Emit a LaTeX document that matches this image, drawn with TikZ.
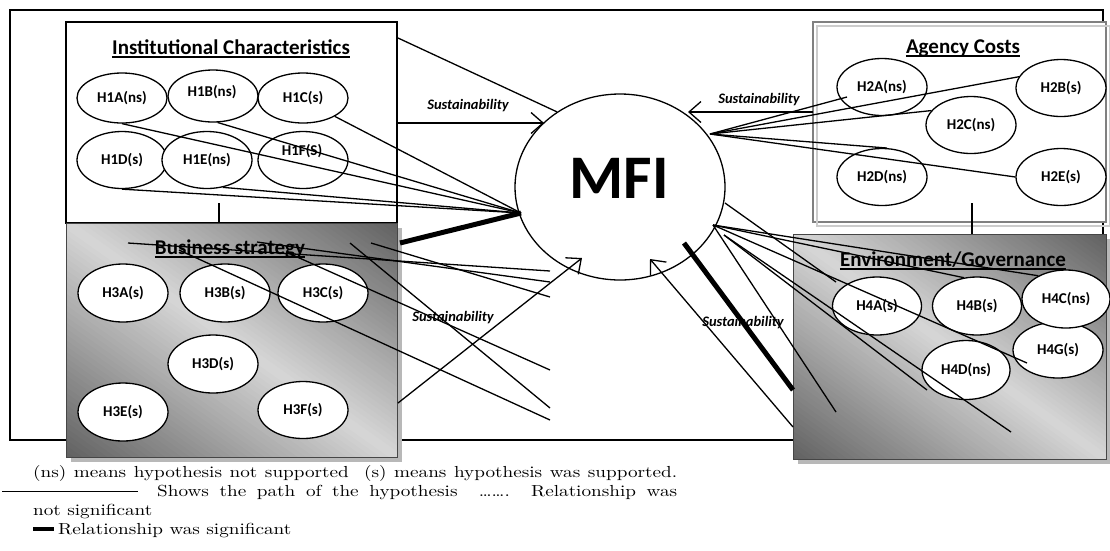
\documentclass[tikz,border=0pt]{standalone}
\usepackage{fontspec}
\newfontfamily\calfont{Carlito}
\newfontfamily\legfont[FakeStretch=1.2]{lmroman10-regular.otf}
\usetikzlibrary{shapes.geometric,arrows.meta}
\definecolor{boxdark}{gray}{0.38}
\definecolor{boxlight}{gray}{0.84}
\definecolor{shadowgray}{gray}{0.72}
\definecolor{agdark}{gray}{0.50}
\definecolor{aglight}{gray}{0.80}
% diagonal dark-light-dark gradient box: x0,y0,x1,y1
\newcommand{\gradbox}[4]{%
  \begin{scope}
    \clip (#1,#2) rectangle (#3,#4);
    \foreach \i in {0,...,79} {
      \pgfmathsetmacro{\ca}{-1+\i/40}
      \pgfmathsetmacro{\cb}{-1+(\i+1)/40+0.004}
      \pgfmathsetmacro{\pc}{100*abs(-1+(\i+0.5)/40)}
      \fill[boxdark!\pc!boxlight]
        ({#1+(#3-#1)*(\ca-0.2)},{#2-0.2*(#4-#2)}) --
        ({#1+(#3-#1)*(\ca+1.2)},{#2+1.2*(#4-#2)}) --
        ({#1+(#3-#1)*(\cb+1.2)},{#2+1.2*(#4-#2)}) --
        ({#1+(#3-#1)*(\cb-0.2)},{#2-0.2*(#4-#2)}) -- cycle;
    }
  \end{scope}
  \draw[draw=gray!55!black, line width=1pt] (#1,#2) rectangle (#3,#4);
}
\begin{document}
\begin{tikzpicture}[x=1pt,y=-1pt,
  ell/.style={ellipse, draw, line width=1.3pt, fill=white, inner sep=0pt,
    minimum width=90pt, minimum height=57pt,
    font=\calfont\bfseries\fontsize{15}{17}\selectfont},
  lab/.style={inner sep=0pt, font=\calfont\bfseries\fontsize{15}{17}\selectfont},
  ttl/.style={inner sep=0pt, anchor=base, font=\calfont\bfseries\fontsize{21}{24}\selectfont},
  sus/.style={inner sep=0pt, font=\calfont\bfseries\itshape\fontsize{14.5}{16}\selectfont},
  ln/.style={line width=1.3pt},
  thk/.style={line width=5pt},
  arr/.style={line width=1.3pt, -{Straight Barb[length=12pt,width=21pt]}},
  uline/.style={line width=1.6pt},
  leg/.style={inner sep=0pt, anchor=base west, font=\legfont\fontsize{16}{19}\selectfont},
]
\useasboundingbox (0,0) rectangle (1110,550);

% outer frame
\draw[line width=1.5pt] (10,10) rectangle (1103,440);

% institutional box
\draw[line width=1.3pt, fill=white] (66,22) rectangle (397,223);
% agency box
\draw[line width=2.5pt, draw=agdark, fill=white] (813,22) rectangle (1106,222);
\draw[line width=1.6pt, draw=aglight] (817,26) rectangle (1110,226);

% business box
\fill[shadowgray] (71,228) rectangle (402,462);
\gradbox{66}{223}{397}{457}
% environment box
\fill[shadowgray] (798,239) rectangle (1110,464);
\gradbox{793}{234}{1106}{459}

% stems
\coordinate (s1a) at (219,203); \coordinate (s1b) at (219,223);
\draw[ln] (s1a) -- (s1b);
\coordinate (s2a) at (972,203); \coordinate (s2b) at (972,234);
\draw[ln] (s2a) -- (s2b);

% titles
\node[ttl] (tinst) at (231,54) {Institutional Characteristics};
\draw[uline] ([yshift=-3pt]tinst.base west) -- ([yshift=-3pt]tinst.base east);
\node[ttl] (tag) at (963,53) {Agency Costs};
\draw[uline] ([yshift=-3pt]tag.base west) -- ([yshift=-3pt]tag.base east);
\node[ttl] (tbus) at (230,254) {Business strategy};
\draw[uline] ([yshift=-3pt]tbus.base west) -- ([yshift=-3pt]tbus.base east);
\node[ttl] (tenv) at (953,266) {Environment/Governance};
\draw[uline] ([yshift=-3pt]tenv.base west) -- ([yshift=-3pt]tenv.base east);

% institutional ellipses
\node[ell, minimum height=50pt] (h1a) at (122,98) {H1A(ns)};
\node[ell, minimum height=52pt] (h1b) at (213,96) {};
\node[lab] (l1b) at (212,92) {H1B(ns)};
\node[ell, minimum height=50pt] (h1c) at (303,98) {H1C(s)};
\node[ell] (h1d) at (122,160) {H1D(s)};
\node[ell] (h1e) at (207,160) {H1E(ns)};
\node[ell] (h1f) at (303,160) {};
\node[lab] (l1f) at (302,151) {H1F(S)};

% agency ellipses
\node[ell] (h2a) at (882,87) {H2A(ns)};
\node[ell] (h2b) at (1061,88) {H2B(s)};
\node[ell] (h2c) at (971,125) {H2C(ns)};
\node[ell] (h2d) at (882,177) {H2D(ns)};
\node[ell] (h2e) at (1061,177) {H2E(s)};

% business ellipses
\node[ell, minimum height=58pt] (h3a) at (123,293) {H3A(s)};
\node[ell, minimum height=58pt] (h3b) at (225,293) {H3B(s)};
\node[ell, minimum height=58pt] (h3c) at (323,293) {H3C(s)};
\node[ell, minimum height=58pt] (h3d) at (213,364) {H3D(s)};
\node[ell, minimum height=58pt] (h3e) at (123,412) {H3E(s)};
\node[ell, minimum height=57pt] (h3f) at (303,410) {H3F(s)};

% environment ellipses
\node[ell, minimum width=89pt, minimum height=58pt] (h4a) at (877,306) {H4A(s)};
\node[ell, minimum width=89pt, minimum height=58pt] (h4b) at (977,306) {H4B(s)};
\node[ell, minimum width=90pt, minimum height=56pt] (h4g) at (1058,350) {H4G(s)};
\node[ell, minimum width=88pt, minimum height=58pt] (h4c) at (1066,299) {H4C(ns)};
\node[ell, minimum width=88pt, minimum height=59pt] (h4d) at (966,370) {H4D(ns)};

% MFI
\node[ellipse, draw, line width=1.3pt, inner sep=0pt, minimum width=210pt, minimum height=186pt] (mfi) at (620,187) {};
\node[inner sep=0pt, font=\calfont\bfseries\fontsize{62}{62}\selectfont] (mfit) at (619,178) {MFI};

% sustainability labels
\node[sus] (sus1) at (468,106) {Sustainability};
\node[sus] (sus2) at (759,100) {Sustainability};
\node[sus] (sus3) at (453,318) {Sustainability};
\node[sus] (sus4) at (743,323) {Sustainability};

% hubs and free ends
\coordinate (hubL) at (521,213);
\coordinate (hubR) at (710,134);
\coordinate (hubE) at (713,225);
\coordinate (hubE2) at (724,235);
\coordinate (cE1) at (725,203);

% institutional connectors
\draw[ln] (h1a.south) -- (hubL);
\draw[ln] (h1b.-80) -- (hubL);
\draw[ln] (h1c.-30) -- (hubL);
\draw[ln] (h1d.south) -- (hubL);
\draw[ln] (h1e.-60) -- (hubL);
\coordinate (topd) at (398,38);
\draw[ln] (topd) -- (mfi.130);
\coordinate (instE) at (397,123);
\coordinate (tipL) at (544,123);
\draw[arr] (instE) -- (tipL);
\coordinate (thL) at (400,243);
\draw[thk] (thL) -- (hubL);

% business connectors
\coordinate (b1s) at (128,243); \coordinate (b1e) at (550,271);
\coordinate (b2s) at (257,242); \coordinate (b2e) at (550,282);
\coordinate (b3s) at (179,250); \coordinate (b3e) at (550,420);
\coordinate (b4s) at (286,252); \coordinate (b4e) at (550,370);
\coordinate (b5s) at (350,243); \coordinate (b5e) at (550,408);
\coordinate (b6s) at (371,243); \coordinate (b6e) at (550,297);
\foreach \i in {1,...,6} {\draw[ln] (b\i s) -- (b\i e);}
\coordinate (busE) at (398,403); \coordinate (tipB) at (582,258);
\draw[arr] (busE) -- (tipB);

% agency connectors
\coordinate (h2ain) at (847,97);
\draw[ln] (hubR) -- (h2ain);
\draw[ln] (hubR) -- (h2b.165);
\draw[ln] (hubR) -- (h2c.160);
\draw[ln] (hubR) -- (h2d.80);
\draw[ln] (hubR) -- (h2e.west);
\coordinate (agW) at (813,112); \coordinate (tipR) at (688,112);
\draw[arr] (agW) -- (tipR);

% environment connectors
\coordinate (e1e) at (836,282);
\coordinate (e4e) at (1027,363);
\coordinate (e5e) at (927,390);
\coordinate (e6e) at (1011,432);
\coordinate (e7e) at (836,412);
\draw[ln] (cE1) -- (e1e);
\draw[ln] (hubE) -- (h4b.115);
\draw[ln] (hubE) -- (h4c.140);
\draw[ln] (hubE) -- (e4e);
\draw[ln] (hubE2) -- (e5e);
\draw[ln] (hubE2) -- (e6e);
\draw[ln] (hubE) -- (e7e);
\coordinate (thEs) at (684,243); \coordinate (thEe) at (793,390);
\draw[thk] (thEs) -- (thEe);
\coordinate (envW) at (793,427); \coordinate (tipE) at (650,259);
\draw[arr] (envW) -- (tipE);

% legend
\node[leg] (leg1) at (33,477) {\makebox[644pt][s]{(ns) means hypothesis not supported\ \ (s) means hypothesis was supported.}};
\coordinate (r1) at (2,491); \coordinate (r2) at (138,491);
\draw[line width=1pt] (r1) -- (r2);
\node[leg] (leg2) at (157,496) {\makebox[520pt][s]{Shows the path of the hypothesis\ \ ……. Relationship was}};
\node[leg] (leg3) at (33,515) {not significant};
\coordinate (d1) at (33,529); \coordinate (d2) at (54,529);
\draw[line width=3.5pt] (d1) -- (d2);
\node[leg] (leg4) at (58,534) {Relationship was significant};
\end{tikzpicture}
\end{document}
